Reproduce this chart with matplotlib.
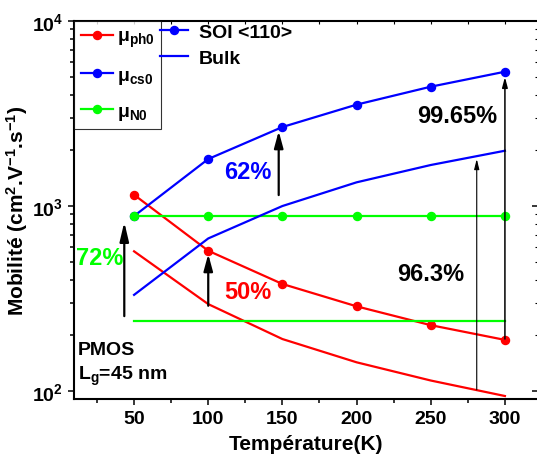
import numpy as np
import matplotlib.pyplot as plt
from matplotlib.lines import Line2D
from matplotlib.ticker import NullFormatter, MultipleLocator, LogLocator

plt.rcParams['font.family'] = 'Liberation Sans'
plt.rcParams['font.weight'] = 'bold'
plt.rcParams['mathtext.fontset'] = 'custom'
plt.rcParams['mathtext.rm'] = 'Liberation Sans:bold'
plt.rcParams['mathtext.bf'] = 'Liberation Sans:bold'
plt.rcParams['mathtext.it'] = 'Liberation Sans:bold'
plt.rcParams['mathtext.default'] = 'bf'

temperature = [50, 100, 150, 200, 250, 300]

# SOI <110> (lines with markers)
mu_ph0_soi = [1150, 573, 379, 287, 227, 189]
mu_cs0_soi = [883, 1795, 2673, 3532, 4415, 5320]
mu_n0_soi = [880, 880, 880, 880, 880, 880]

# Bulk (plain lines)
mu_ph0_bulk = [569, 295, 191, 143, 114, 94]
mu_cs0_bulk = [331, 668, 1000, 1343, 1666, 1990]
mu_n0_bulk = [238, 238, 238, 238, 238, 238]

# gain arrows: temperature, start, end
arrow_T = [43.4, 100, 147.5, 281, 300]
arrow_from = [254, 289, 1146, 101.6, 191]
arrow_to = [819, 550, 2541, 1795, 4980]

labels = ['72%', '50%', '62%', '96.3%', '99.65%']
label_T = [27, 127, 127, 250, 268]
label_mu = [524, 347, 1545, 434, 3103]
label_colors = ['#00FF00', 'red', 'blue', 'black', 'black']

RED, BLUE, GREEN = '#FF0000', '#0000FF', '#00FF00'

fig = plt.figure(figsize=(5.37, 4.64), dpi=100)
ax = fig.add_axes([74/537, 64/464, 464/537, 378/464])

lw, ms = 1.6, 5.8
l1, = ax.plot(temperature, mu_ph0_soi, color=RED, lw=lw, marker='o', ms=ms)
l2, = ax.plot(temperature, mu_cs0_soi, color=BLUE, lw=lw, marker='o', ms=ms)
l3, = ax.plot(temperature, mu_n0_soi, color=GREEN, lw=lw, marker='o', ms=ms)
ax.plot(temperature, mu_ph0_bulk, color=RED, lw=lw)
ax.plot(temperature, mu_cs0_bulk, color=BLUE, lw=lw)
ax.plot(temperature, mu_n0_bulk, color=GREEN, lw=lw)

ax.set_yscale('log')
ax.set_xlim(9.5, 322.3)
ax.set_ylim(10**1.957, 1e4)

# arrows: (line width, head length, head half-width)
styles = [(1.6, 1.15, 0.27), (1.6, 1.0, 0.27), (1.6, 1.0, 0.27), (0.8, 0.6, 0.15), (1.1, 0.6, 0.16)]
for T, a, b, (alw, hl, hw) in zip(arrow_T, arrow_from, arrow_to, styles):
    ax.annotate('', xy=(T, b), xytext=(T, a),
                arrowprops=dict(arrowstyle='-|>,head_length=%.2f,head_width=%.2f' % (hl, hw),
                                color='black', lw=alw, mutation_scale=10,
                                shrinkA=0, shrinkB=0))

for txt, T, m, c in zip(labels, label_T, label_mu, label_colors):
    ax.text(T, m, txt, color=c, fontsize=17, fontweight='bold', ha='center', va='center')

ax.text(0.009, 0.132, 'PMOS', transform=ax.transAxes, fontsize=14, va='center', ha='left')
ax.text(0.009, 0.063, 'L$_g$=45 nm', transform=ax.transAxes, fontsize=14, va='center', ha='left')

# legends
leg1 = ax.legend([l1, l2, l3], ['μ$_{ph0}$', 'μ$_{cs0}$', 'μ$_{N0}$'],
                 loc='upper left', bbox_to_anchor=(0, 1), borderaxespad=0,
                 fontsize=14, frameon=True, fancybox=False, handlelength=1.65,
                 handletextpad=0.2, labelspacing=0.85, borderpad=0.35)
leg1.get_frame().set_edgecolor('black')
leg1.get_frame().set_linewidth(0.8)
ax.add_artist(leg1)
h_soi = Line2D([], [], color=BLUE, lw=lw, marker='o', ms=ms)
h_bulk = Line2D([], [], color=BLUE, lw=lw)
ax.legend([h_soi, h_bulk], ['SOI <110>', 'Bulk'], loc='upper left',
          bbox_to_anchor=((158 - 74) / 464, 1.0), borderaxespad=0, frameon=False,
          fontsize=14, handlelength=1.45, handletextpad=0.55, labelspacing=0.45,
          borderpad=0.1)

ax.set_xlabel('Température(K)', fontsize=15, fontweight='bold', labelpad=5)
ax.set_ylabel('Mobilité (cm$^2$.V$^{-1}$.s$^{-1}$)', fontsize=15, fontweight='bold', labelpad=1)

ax.xaxis.set_major_locator(MultipleLocator(50))
ax.xaxis.set_minor_locator(MultipleLocator(25))
ax.yaxis.set_minor_formatter(NullFormatter())
ax.tick_params(which='both', direction='out', labelsize=14, width=1.1, top=False, right=False)
ax.tick_params(which='major', length=4.5)
ax.tick_params(which='minor', length=3)

for s in ['left', 'bottom', 'top']:
    ax.spines[s].set_linewidth(1.5)
ax.spines['right'].set_visible(False)

top = ax.secondary_xaxis('top')
top.xaxis.set_major_locator(MultipleLocator(25))
top.tick_params(direction='in', length=2.5, width=0.8, labeltop=False)
top.spines['top'].set_visible(False)

right = ax.secondary_yaxis('right')
right.yaxis.set_major_locator(LogLocator(base=10))
right.yaxis.set_minor_locator(LogLocator(base=10, subs=np.arange(2, 10)))
right.tick_params(which='major', direction='in', length=4, width=1.1, labelright=False)
right.tick_params(which='minor', direction='in', length=2, width=0.8, labelright=False)
right.spines['right'].set_visible(False)

fig.savefig('out.png', dpi=100)
